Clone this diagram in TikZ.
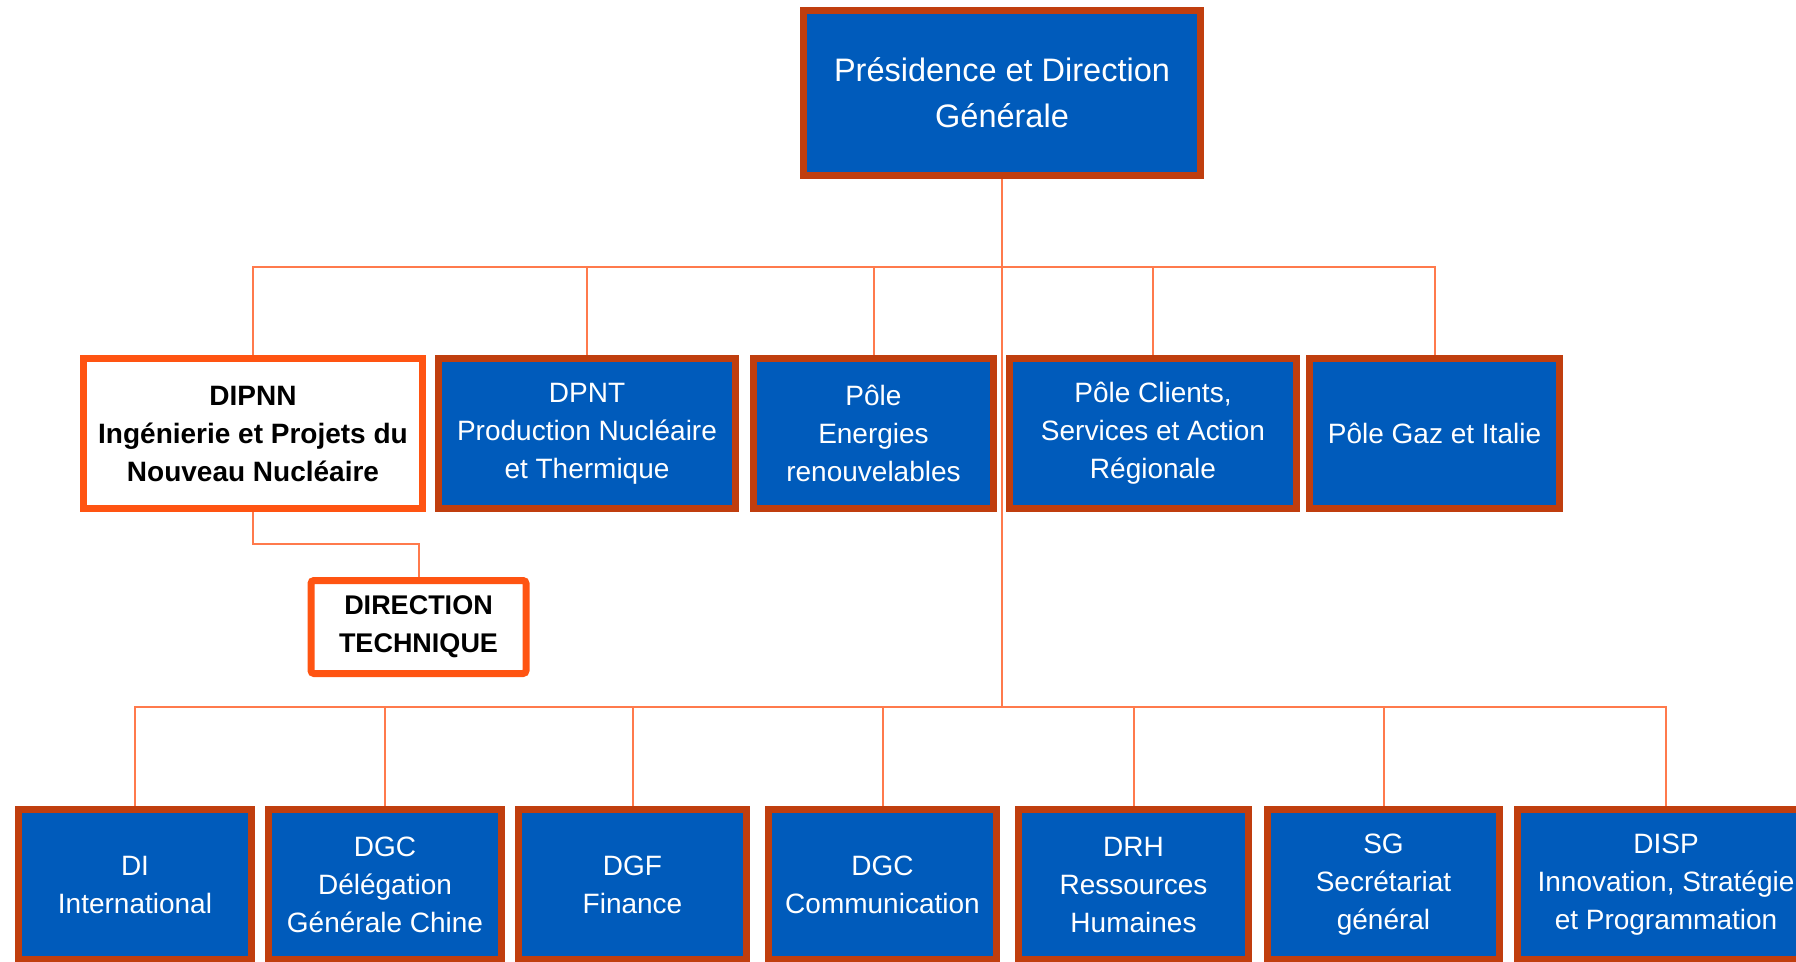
\documentclass[tikz,border=0pt]{standalone}
\usepackage{fontspec}
\setmainfont{Liberation Sans}
\usepackage{xcolor}
\definecolor{edfblue}{RGB}{0,91,187}
\definecolor{edfbrown}{RGB}{192,62,14}
\definecolor{linkorange}{RGB}{255,122,76}
\definecolor{brightorange}{RGB}{255,84,18}
\tikzstyle{unit} = [rectangle, draw=edfbrown, line width=7pt, fill=edfblue, text=white, align=center, inner sep=0pt, minimum height=150pt, font=\fontsize{28}{38}\selectfont]
\tikzstyle{branch} = [rectangle, draw=brightorange, line width=7pt, fill=white, text=black, align=center, inner sep=0pt, font=\fontsize{28}{38}\selectfont\bfseries]

\begin{document}
\begin{tikzpicture}[x=1pt, y=-1pt]
	\tikzset{link/.style={draw=linkorange, line width=2pt}}
	\clip (0,0) rectangle (1796,961);
	% top
	\node[unit, minimum width=397pt, minimum height=165pt, font=\fontsize{32.5}{46}\selectfont] (pdg) at (1002,93) {Présidence et Direction\\Générale};
	% poles
	\node[branch, minimum width=339pt, minimum height=150pt] (dipnn) at (253,433.5) {DIPNN\\Ingénierie et Projets du\\Nouveau Nucléaire};
	\node[unit, minimum width=297pt] (dpnt) at (587,433.5) {DPNT\\Production Nucléaire\\et Thermique};
	\node[unit, minimum width=240pt] (enr) at (873.5,433.5) {Pôle\\Energies\\renouvelables};
	\node[unit, minimum width=287pt] (clients) at (1153,433.5) {Pôle Clients,\\Services et Action\\Régionale};
	\node[unit, minimum width=250pt] (gaz) at (1434.5,433.5) {Pôle Gaz et Italie};
	\node[branch, minimum width=215pt, minimum height=93pt, rounded corners=3pt, font=\fontsize{27}{38}\selectfont\bfseries] (dt) at (418.5,627) {DIRECTION\\TECHNIQUE};
	% directions
	\node[unit, minimum width=233pt] (di) at (135,884.5) {DI\\International};
	\node[unit, minimum width=233pt] (dgcchine) at (385,884.5) {DGC\\Délégation\\Générale Chine};
	\node[unit, minimum width=228pt] (dgf) at (632.5,884.5) {DGF\\Finance};
	\node[unit, minimum width=228pt] (dgccom) at (882.5,884.5) {DGC\\Communication};
	\node[unit, minimum width=230pt] (drh) at (1133.5,884.5) {DRH\\Ressources\\Humaines};
	\node[unit, minimum width=232pt] (sg) at (1383.5,884.5) {SG\\Secrétariat\\général};
	\node[unit, minimum width=297pt] (disp) at (1666,884.5) {DISP\\Innovation, Stratégie\\et Programmation};
	% links
	\coordinate (upper) at (1002,267);
	\coordinate (lower) at (1002,707);
	\draw[link] (pdg.south) -- (lower);
	\foreach \n in {dipnn,dpnt,enr,clients,gaz}
		\draw[link] (upper) -| (\n.north);
	\foreach \n in {di,dgcchine,dgf,dgccom,drh,sg,disp}
		\draw[link] (lower) -| (\n.north);
	\draw[link] (dipnn.south) -- ++(0,32) -| (dt.north);
\end{tikzpicture}
\end{document}
